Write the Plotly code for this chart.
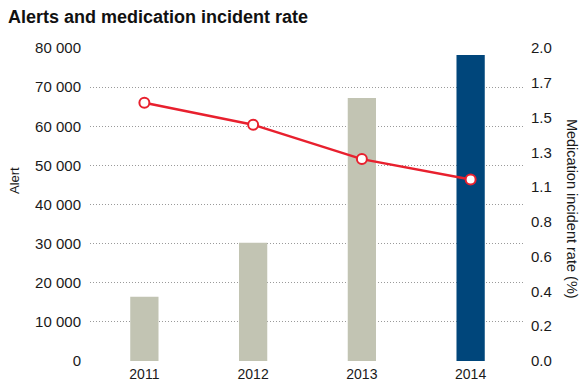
import plotly.graph_objects as go

YEARS = ["2011", "2012", "2013", "2014"]
ALERTS = [16400, 30200, 67200, 78200]
INCIDENT_RATE = [1.65, 1.51, 1.29, 1.16]
BAR_COLORS = ["#c2c4b3", "#c2c4b3", "#c2c4b3", "#00467b"]

ALERT_TICKS = [0, 10000, 20000, 30000, 40000, 50000, 60000, 70000, 80000]
ALERT_TICK_TEXT = ["0", "10 000", "20 000", "30 000", "40 000",
                   "50 000", "60 000", "70 000", "80 000"]
RATE_TICKS = [0.0, 0.2222, 0.4444, 0.6667, 0.8889,
              1.1111, 1.3333, 1.5556, 1.7778, 2.0]
RATE_TICK_TEXT = ["0.0", "0.2", "0.4", "0.6", "0.8",
                  "1.1", "1.3", "1.5", "1.7", "2.0"]

FONT = "Liberation Sans, Arial, sans-serif"
TEXT_COLOR = "#1a1a1a"

fig = go.Figure()

fig.add_trace(
    go.Bar(
        x=YEARS,
        y=ALERTS,
        marker={"color": BAR_COLORS, "line": {"width": 0}},
        name="Alert",
        yaxis="y",
    )
)

fig.add_trace(
    go.Scatter(
        x=YEARS,
        y=INCIDENT_RATE,
        mode="lines+markers",
        line={"color": "#e8202e", "width": 2.5},
        marker={
            "size": 10,
            "color": "white",
            "line": {"color": "#e8202e", "width": 2},
        },
        name="Medication incident rate (%)",
        yaxis="y2",
        cliponaxis=False,
    )
)

fig.update_layout(
    width=583,
    height=383,
    margin={"l": 90, "r": 58, "t": 48, "b": 22},
    paper_bgcolor="white",
    plot_bgcolor="white",
    showlegend=False,
    bargap=0.74,
    font={"family": FONT, "size": 14, "color": TEXT_COLOR},
    title={
        "text": "<b>Alerts and medication incident rate</b>",
        "xref": "container",
        "yref": "container",
        "x": 0.0,
        "xanchor": "left",
        "y": 1.0,
        "yanchor": "top",
        "pad": {"l": 8, "t": 10},
        "font": {"family": FONT, "size": 18, "color": "#111111"},
    },
    xaxis={
        "showgrid": False,
        "showline": False,
        "ticks": "",
        "automargin": False,
        "ticklabelstandoff": 3,
        "tickfont": {"size": 14},
    },
    yaxis={
        "range": [0, 80000],
        "tickvals": ALERT_TICKS,
        "ticktext": ALERT_TICK_TEXT,
        "showgrid": True,
        "gridcolor": "#9a9a9a",
        "griddash": "1px,2px",
        "gridwidth": 1,
        "zeroline": False,
        "showline": False,
        "ticks": "",
        "automargin": False,
        "ticklabelstandoff": 8,
        "tickfont": {"size": 15},
    },
    yaxis2={
        "range": [0, 2],
        "overlaying": "y",
        "side": "right",
        "tickvals": RATE_TICKS,
        "ticktext": RATE_TICK_TEXT,
        "showgrid": False,
        "zeroline": False,
        "showline": False,
        "ticks": "",
        "automargin": False,
        "ticklabelstandoff": 5,
        "tickfont": {"size": 15},
    },
)

# Axis titles as annotations so they sit where the reference has them
fig.add_annotation(
    text="Alert",
    x=0,
    xshift=-76,
    y=0.575,
    xref="paper",
    yref="paper",
    showarrow=False,
    textangle=-90,
    xanchor="center",
    font={"family": FONT, "size": 13, "color": TEXT_COLOR},
)

fig.add_annotation(
    text="Medication incident rate (%)",
    x=1,
    xshift=47,
    y=0.486,
    xref="paper",
    yref="paper",
    showarrow=False,
    textangle=90,
    xanchor="center",
    font={"family": FONT, "size": 14.5, "color": TEXT_COLOR},
)

# The page body has a default margin; drop it so the figure fills the window.
fig.write_html(
    "out.html",
    config={"displayModeBar": False},
    post_script="document.body.style.margin = '0';",
)
